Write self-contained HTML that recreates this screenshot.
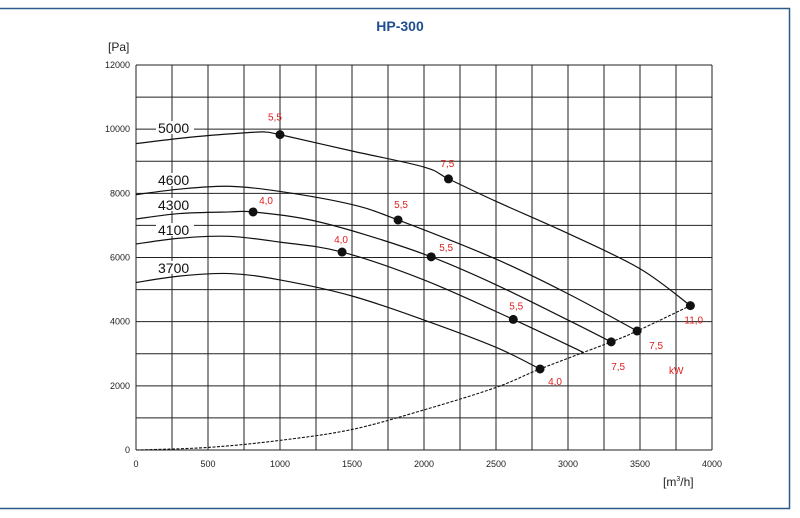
<!DOCTYPE html>
<html><head><meta charset="utf-8"><style>
body{margin:0;background:#fff;font-family:"Liberation Sans",sans-serif}
svg{display:block}
</style></head><body>
<svg id="c" width="800" height="518" xmlns="http://www.w3.org/2000/svg"></svg>
<script>
const xTicks=[0,500,1000,1500,2000,2500,3000,3500,4000];
const yTicks=[0,2000,4000,6000,8000,10000,12000];
const speedLabels=["5000","4600","4300","4100","3700"];
const curve5000=[[0,9550],[400,9760],[800,9900],[900,9910],[1000,9830],[1500,9320],[2000,8820],[2170,8450],[2500,7750],[3000,6750],[3500,5650],[3850,4500]];
const curve4600=[[0,7960],[300,8130],[640,8220],[1000,8060],[1500,7650],[1820,7170],[2500,5950],[3000,4870],[3480,3710]];
const curve4300=[[0,7200],[300,7370],[650,7420],[813,7420],[1200,7180],[1600,6700],[2050,6020],[2500,5150],[3000,4050],[3300,3370]];
const curve4100=[[0,6420],[300,6600],[640,6660],[1000,6480],[1431,6170],[2000,5300],[2620,4070],[3104,3050]];
const curve3700=[[0,5220],[300,5420],[650,5500],[1000,5300],[1500,4800],[2000,4050],[2500,3200],[2806,2525]];
const systemCurve=[[0,0],[500,80],[1000,300],[1500,640],[2000,1250],[2500,1950],[2806,2525],[3300,3370],[3480,3710],[3850,4500]];
const powerPoints=[[1000,9830,"5,5",-12,-14],[2170,8450,"7,5",-8,-12],[1820,7170,"5,5",-4,-12],[3480,3710,"7,5",12,18],[813,7420,"4,0",6,-8],[2050,6020,"5,5",8,-6],[3300,3370,"7,5",0,28],[1431,6170,"4,0",-8,-9],[2620,4070,"5,5",-4,-10],[2806,2525,"4,0",8,16],[3850,4500,"11,0",-6,18]];
const labelY=[9880,8260,7480,6700,5520];
const S="http://www.w3.org/2000/svg", svg=document.getElementById('c');
const X=v=>136+v*0.144, Y=v=>450-v*(385/12000);
function el(t,a,p){const e=document.createElementNS(S,t);for(const k in a)e.setAttribute(k,a[k]);(p||svg).appendChild(e);return e;}
function txt(s,a){const e=el('text',a);e.textContent=s;return e;}
const fr=el('path',{d:'M0 8.5H789.5V508.5H0',fill:'none',stroke:'#2d5b8c','stroke-width':1.5});


const tt=txt('HP-300',{x:400,y:31,'text-anchor':'middle','font-size':14,'font-weight':'bold',fill:'#1f4f8f'});


const g=el('g',{stroke:'#222','stroke-width':1});


for(let v=0;v<=4000;v+=250)el('line',{x1:X(v),x2:X(v),y1:Y(0),y2:Y(12000)},g);
for(let v=0;v<=12000;v+=1000)el('line',{x1:X(0),x2:X(4000),y1:Y(v),y2:Y(v)},g);
xTicks.forEach(v=>{const t=txt(v,{x:X(v),y:467,'text-anchor':'middle','font-size':9,fill:'#222'});

});
yTicks.forEach(v=>{const t=txt(v,{x:130,y:Y(v)+3,'text-anchor':'end','font-size':9,fill:'#222'});

});
const yt=txt('[Pa]',{x:108,y:51,'font-size':12,fill:'#222'});


const xt=el('text',{x:663,y:486,'font-size':12,fill:'#222'});
xt.innerHTML='[m<tspan font-size="7" dy="-5">3</tspan><tspan dy="5">/h]</tspan>';


function pathD(pts){const p=pts.map(q=>[X(q[0]),Y(q[1])]);let d='M'+p[0][0]+' '+p[0][1];
for(let i=0;i<p.length-1;i++){const a=p[i-1]||p[i],b=p[i],c=p[i+1],e=p[i+2]||c;
d+=` C${b[0]+(c[0]-a[0])/6} ${b[1]+(c[1]-a[1])/6} ${c[0]-(e[0]-b[0])/6} ${c[1]-(e[1]-b[1])/6} ${c[0]} ${c[1]}`;}return d;}
speedLabels.forEach((s,i)=>{
const bg=el('rect',{x:156,y:Y(labelY[i])-12,width:38,height:13,fill:'#fff'});


const t=txt(s,{x:158,y:Y(labelY[i]),'font-size':14,fill:'#111'});

});
[curve5000,curve4600,curve4300,curve4100,curve3700].forEach((c,i)=>{
const p=el('path',{d:pathD(c),fill:'none',stroke:'#111','stroke-width':1.2});

});
const sc=el('path',{d:pathD(systemCurve),fill:'none',stroke:'#111','stroke-width':1.1,'stroke-dasharray':'3,1.5'});


powerPoints.forEach(p=>{const c=el('circle',{cx:X(p[0]),cy:Y(p[1]),r:4.5,fill:'#111'});


const t=txt(p[2],{x:X(p[0])+p[3],y:Y(p[1])+p[4],'font-size':10,fill:'#e02020'});

});
const kw=txt('kW',{x:669,y:374,'font-size':10,fill:'#e02020'});


</script>
</body></html>
